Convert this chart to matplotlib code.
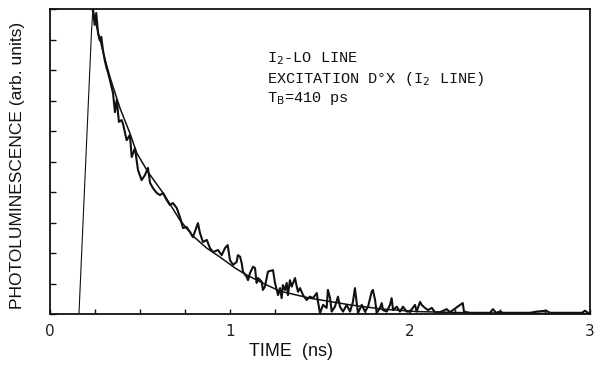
import matplotlib
matplotlib.use("Agg")
import matplotlib.pyplot as plt
from matplotlib.ticker import MultipleLocator

# photoluminescence trace (time in ns, intensity in arb. units)
rise_t = [0.161, 0.231, 0.239]
rise_v = [0.0, 9.31, 10.03]

trace_t = [0.239, 0.248, 0.257, 0.267, 0.276, 0.285, 0.294, 0.304, 0.314, 0.322,
           0.333, 0.350, 0.361, 0.371, 0.383, 0.398, 0.406, 0.426, 0.444, 0.454,
           0.472, 0.489, 0.509, 0.528, 0.544, 0.556, 0.572, 0.593, 0.611, 0.628,
           0.648, 0.667, 0.683, 0.704, 0.722, 0.739, 0.759, 0.778, 0.794, 0.822,
           0.833, 0.850, 0.871, 0.889, 0.906, 0.933, 0.954, 0.972, 0.987, 1.000,
           1.017, 1.037, 1.044, 1.056, 1.065, 1.072, 1.093, 1.100, 1.111, 1.128,
           1.139, 1.148, 1.156, 1.176, 1.183, 1.194, 1.211, 1.222, 1.239, 1.250,
           1.267, 1.278, 1.287, 1.294, 1.306, 1.315, 1.322, 1.333, 1.343, 1.361,
           1.371, 1.378, 1.389, 1.406, 1.426, 1.444, 1.461, 1.482, 1.489, 1.500,
           1.517, 1.537, 1.544, 1.556, 1.565, 1.583, 1.600, 1.611, 1.628, 1.648,
           1.667, 1.683, 1.694, 1.704, 1.711, 1.732, 1.750, 1.767, 1.787, 1.794,
           1.806, 1.815, 1.833, 1.843, 1.850, 1.871, 1.889, 1.898, 1.906, 1.926,
           1.944, 1.961, 1.982, 2.000, 2.028, 2.037, 2.056, 2.065, 2.083, 2.100,
           2.121, 2.139, 2.167, 2.204, 2.222, 2.278, 2.293, 2.300, 2.333, 2.444,
           2.461, 2.478, 2.500, 2.517, 2.667, 2.704, 2.756, 2.778, 2.956, 2.972,
           2.989]
trace_v = [10.03, 9.48, 9.87, 9.21, 8.98, 9.09, 8.66, 8.33, 8.07, 7.93,
           7.67, 7.25, 6.62, 7.02, 6.30, 6.36, 6.23, 5.70, 5.87, 5.15,
           5.44, 4.72, 4.39, 4.56, 4.79, 4.30, 4.13, 3.97, 3.90, 3.97,
           3.74, 3.57, 3.64, 3.48, 3.18, 2.82, 2.85, 2.69, 2.52, 2.98,
           2.66, 2.36, 2.43, 2.16, 2.03, 2.10, 1.93, 2.16, 2.26, 1.77,
           1.61, 1.71, 1.93, 1.88, 1.67, 1.39, 1.22, 1.11, 1.34, 1.55,
           1.51, 1.02, 1.18, 1.06, 0.79, 0.90, 1.39, 1.41, 1.44, 1.02,
           0.62, 0.85, 0.52, 0.95, 0.79, 1.02, 0.62, 1.11, 0.90, 1.18,
           0.90, 0.73, 0.85, 0.62, 0.46, 0.57, 0.52, 0.69, 0.40, 0.03,
           0.30, 0.20, 0.79, 0.52, 0.08, 0.24, 0.57, 0.24, 0.08, 0.30,
           0.08, 0.40, 0.85, 0.36, 0.03, 0.30, 0.08, 0.24, 0.73, 0.79,
           0.46, 0.03, 0.20, 0.36, 0.13, 0.08, 0.30, 0.52, 0.13, 0.24,
           0.08, 0.24, 0.08, 0.08, 0.30, 0.08, 0.40, 0.30, 0.20, 0.13,
           0.20, 0.06, 0.06, 0.16, 0.06, 0.30, 0.36, 0.08, 0.04, 0.04,
           0.16, 0.04, 0.08, 0.04, 0.04, 0.08, 0.11, 0.04, 0.04, 0.11,
           0.04]

# fitted decay curve (T_B = 410 ps)
fit_t = [0.228, 0.250, 0.304, 0.333, 0.389, 0.444, 0.482, 0.544, 0.628, 0.722,
         0.794, 0.871, 0.944, 1.028, 1.083, 1.194, 1.278, 1.444, 1.667, 1.850,
         2.040, 2.330, 3.000]
fit_v = [10.13, 9.64, 8.39, 7.77, 6.75, 5.93, 5.28, 4.66, 3.97, 3.08,
         2.56, 2.16, 1.87, 1.51, 1.31, 0.98, 0.75, 0.52, 0.30, 0.16,
         0.08, 0.04, 0.01]

x_ticks = [0, 1, 2, 3]
x_labels = ["0", "1", "2", "3"]

ink = "#111111"
mono = ["Liberation Mono", "DejaVu Sans"]
sans = ["Liberation Sans", "DejaVu Sans"]

fig = plt.figure(figsize=(5.95, 3.66), dpi=100)
ax = fig.add_axes([0.084, 0.142, 0.9076, 0.8333])

ax.plot(rise_t, rise_v, color=ink, lw=0.8)
ax.plot(trace_t, trace_v, color=ink, lw=1.5)
ax.plot(fit_t, fit_v, color=ink, lw=1.1)

ax.set_xlim(0, 3)
ax.set_ylim(0, 10)
ax.set_xticks(x_ticks)
ax.set_xticklabels(x_labels, fontfamily="DejaVu Sans", fontsize=11, color="#222222")
ax.xaxis.set_minor_locator(MultipleLocator(0.25))
ax.yaxis.set_major_locator(MultipleLocator(1))
ax.set_yticklabels([])
ax.tick_params(axis="both", which="both", direction="in", color=ink)
ax.tick_params(axis="x", which="major", length=3.5, width=1, pad=7)
ax.tick_params(axis="x", which="minor", length=3.5, width=1)
ax.tick_params(axis="y", which="major", length=4, width=1)
for sp in ax.spines.values():
    sp.set_linewidth(1.3)
    sp.set_color(ink)

# annotation block
ax.text(1.204, 8.27, r"I$_2$-LO LINE", fontfamily=mono, fontsize=11, color=ink, va="baseline")
ax.text(1.204, 7.56, r"EXCITATION D°X (I$_2$ LINE)", fontfamily=mono, fontsize=11, color=ink, va="baseline")
ax.text(1.204, 6.96, r"T$_\mathrm{B}$=410 ps", fontfamily=mono, fontsize=11, color=ink, va="baseline")

fig.text(18 / 595, 0.549, "PHOTOLUMINESCENCE (arb. units)", rotation=90,
         ha="center", va="center", fontsize=12.5, color=ink, fontfamily=sans)
fig.text(291 / 595, 1 - 352 / 366, "TIME  (ns)", ha="center", va="center",
         fontsize=13, color=ink, fontfamily=sans)

fig.savefig("out.png", dpi=100)
